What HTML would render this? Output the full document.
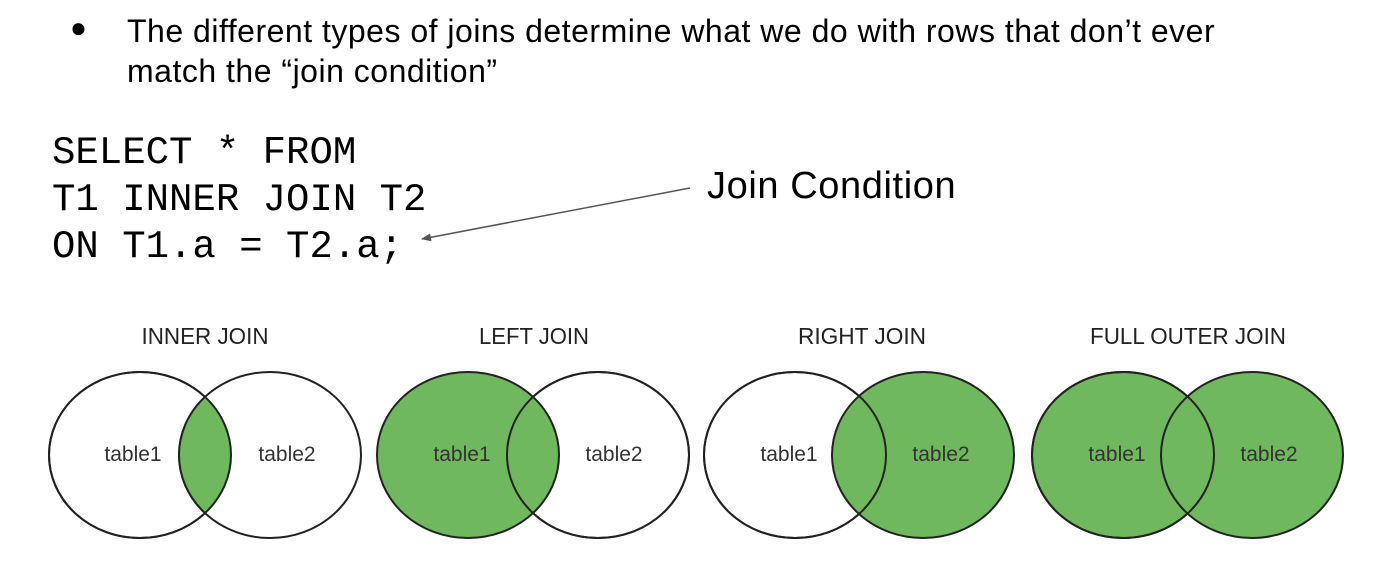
<!DOCTYPE html>
<html><head><style>
body{margin:0;width:1392px;height:576px;background:#fff;overflow:hidden;position:relative}
.t{position:absolute;font-family:"Liberation Sans",sans-serif;color:#000;white-space:nowrap}
.c{position:absolute;font-family:"Liberation Mono",monospace;font-size:39px;color:#000;white-space:pre}
</style></head><body>
<div class="t" style="left:70px;top:12px;font-size:28px">●</div>
<div class="t" style="left:127px;top:11px;font-size:32px;line-height:40px;letter-spacing:0.5px">The different types of joins determine what we do with rows that don’t ever<br>match the “join condition”</div>
<div class="c" style="left:52px;top:130px;line-height:47px">SELECT * FROM
T1 INNER JOIN T2
ON T1.a = T2.a;</div>
<div class="t" style="left:707px;top:165px;font-size:38px;letter-spacing:0.6px">Join Condition</div>
<svg width="1392" height="576" style="position:absolute;left:0;top:0">
<defs>
<marker id="a" markerWidth="10" markerHeight="8" refX="9" refY="4" orient="auto" markerUnits="userSpaceOnUse" viewBox="0 0 10 8"><path d="M0,0L10,4L0,8z" fill="#555"/></marker>
<clipPath id="l1"><ellipse cx="140" cy="455" rx="91" ry="83"/></clipPath>
</defs>
<line x1="690" y1="188" x2="422" y2="239" stroke="#555" stroke-width="1.5" marker-end="url(#a)"/>
<g stroke="#222" stroke-width="2">
<ellipse cx="140" cy="455" rx="91" ry="83" fill="#fff"/>
<ellipse cx="270" cy="455" rx="91" ry="83" fill="#fff"/>
<ellipse cx="270" cy="455" rx="91" ry="83" fill="#70b85d" clip-path="url(#l1)"/>
<ellipse cx="140" cy="455" rx="91" ry="83" fill="none"/>
<ellipse cx="598" cy="455" rx="91" ry="83" fill="#fff"/>
<ellipse cx="468" cy="455" rx="91" ry="83" fill="#70b85d"/>
<ellipse cx="598" cy="455" rx="91" ry="83" fill="none"/>
<ellipse cx="795" cy="455" rx="91" ry="83" fill="#fff"/>
<ellipse cx="923" cy="455" rx="91" ry="83" fill="#70b85d"/>
<ellipse cx="795" cy="455" rx="91" ry="83" fill="none"/>
<ellipse cx="1123" cy="455" rx="91" ry="83" fill="#70b85d"/>
<ellipse cx="1252" cy="455" rx="91" ry="83" fill="#70b85d"/>
<ellipse cx="1123" cy="455" rx="91" ry="83" fill="none"/>
</g>
<g font-family="Liberation Sans,sans-serif" font-size="21" fill="#333" text-anchor="middle">
<text x="133" y="461">table1</text><text x="287" y="461">table2</text>
<text x="462" y="461">table1</text><text x="614" y="461">table2</text>
<text x="789" y="461">table1</text><text x="941" y="461">table2</text>
<text x="1117" y="461">table1</text><text x="1269" y="461">table2</text>
</g>
<g font-family="Liberation Sans,sans-serif" font-size="23" fill="#222" text-anchor="middle">
<text x="205" y="344" textLength="127" lengthAdjust="spacingAndGlyphs">INNER JOIN</text>
<text x="534" y="344" textLength="110" lengthAdjust="spacingAndGlyphs">LEFT JOIN</text>
<text x="862" y="344" textLength="128" lengthAdjust="spacingAndGlyphs">RIGHT JOIN</text>
<text x="1188" y="344" textLength="196" lengthAdjust="spacingAndGlyphs">FULL OUTER JOIN</text>
</g>
</svg>
</body></html>
